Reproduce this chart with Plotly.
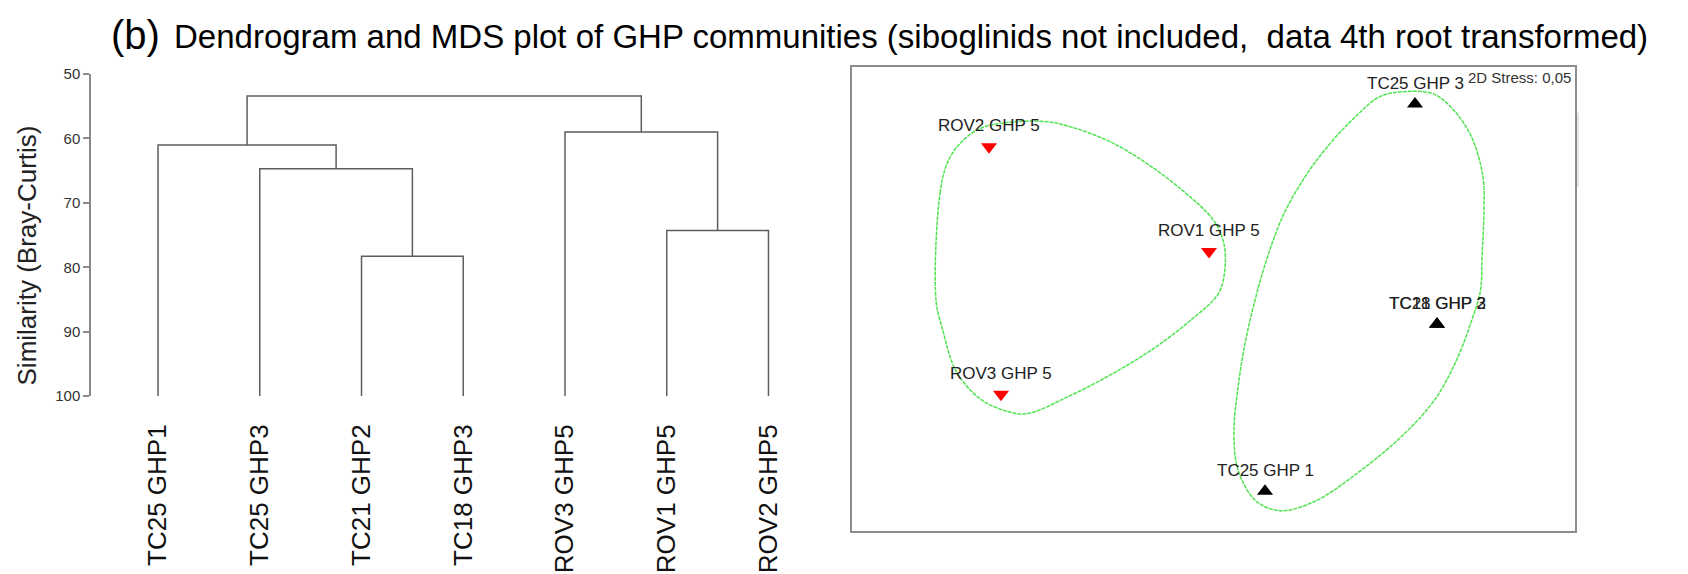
import plotly.graph_objects as go

W, H = 1688, 574

# ---------------- Dendrogram data ----------------
leaf_labels = ["TC25 GHP1", "TC25 GHP3", "TC21 GHP2", "TC18 GHP3",
               "ROV3 GHP5", "ROV1 GHP5", "ROV2 GHP5"]
# linkage: children ids (<7 = leaf, >=7 = earlier merge) and similarity level
merge_left = [2, 5, 1, 4, 0, 11]
merge_right = [3, 6, 7, 8, 9, 10]
merge_similarity = [78.3, 74.3, 64.7, 59.0, 61.0, 53.4]
sim_ticks = [50, 60, 70, 80, 90, 100]

# ---------------- MDS data ----------------
mds_labels = ["ROV2 GHP 5", "ROV1 GHP 5", "ROV3 GHP 5",
              "TC25 GHP 3", "TC21 GHP 2", "TC18 GHP 3", "TC25 GHP 1"]
mds_group = ["ROV", "ROV", "ROV", "TC", "TC", "TC", "TC"]
mds_x = [-2.245, -0.045, -2.125, 2.015, 2.235, 2.235, 0.515]
mds_y = [1.57, 0.49, -0.98, 2.01, -0.26, -0.26, -1.98]

rov_hull_x = [-2.775, -2.735, -2.655, -2.52, -2.33, -2.06, -1.68, -1.41, -1.03, -0.655,
              -0.275, -0.005, 0.10, 0.115, 0.05, -0.22, -0.60, -1.03, -1.465, -1.87,
              -2.115, -2.355, -2.575, -2.71]
rov_hull_y = [-0.01, 1.09, 1.42, 1.62, 1.76, 1.82, 1.83, 1.77, 1.62, 1.39,
              1.09, 0.82, 0.59, 0.32, 0.06, -0.21, -0.51, -0.78, -1.01, -1.18,
              -1.14, -1.01, -0.74, -0.31]
tc_hull_x = [2.685, 2.705, 2.695, 2.585, 2.425, 2.21, 1.94, 1.67, 1.40, 1.13, 0.915,
             0.695, 0.535, 0.415, 0.315, 0.245, 0.205, 0.245, 0.425, 0.67, 1.02, 1.455,
             1.885, 2.21, 2.425, 2.585, 2.67]
tc_hull_y = [0.42, 0.92, 1.26, 1.66, 1.92, 2.11, 2.14, 2.09, 1.86, 1.56, 1.26,
             0.86, 0.42, -0.01, -0.46, -0.91, -1.36, -1.76, -2.08, -2.18, -2.08, -1.78,
             -1.41, -1.04, -0.64, -0.21, 0.09]

stress_text = "2D Stress: 0,05"
title_tag = "(b)"
title_text = ("Dendrogram and MDS plot of GHP communities (siboglinids not included,"
              "\u00a0 data 4th root transformed)")
y_title = "Similarity (Bray-Curtis)"

FONT = "Liberation Sans, Arial, Helvetica, sans-serif"


def px(x):
    return x / W


def py(y):
    return 1 - y / H


# ---------------- build dendrogram segments ----------------
n_leaf = len(leaf_labels)
node_x = list(range(n_leaf))
node_h = [100.0] * n_leaf
seg_x, seg_y = [], []
for l, r, s in zip(merge_left, merge_right, merge_similarity):
    seg_x += [node_x[l], node_x[l], node_x[r], node_x[r], None]
    seg_y += [node_h[l], s, s, node_h[r], None]
    node_x.append((node_x[l] + node_x[r]) / 2)
    node_h.append(s)

fig = go.Figure()
fig.add_trace(go.Scatter(x=seg_x, y=seg_y, mode="lines",
                         line=dict(color="#5e5e5e", width=1.5),
                         xaxis="x", yaxis="y", hoverinfo="skip", showlegend=False))

for hx, hy in [(rov_hull_x, rov_hull_y), (tc_hull_x, tc_hull_y)]:
    fig.add_trace(go.Scatter(x=hx + [hx[0]], y=hy + [hy[0]], mode="lines",
                             line=dict(color="#4fe34f", width=1.5, dash="4px,1px",
                                       shape="spline", smoothing=1.0),
                             xaxis="x2", yaxis="y2", hoverinfo="skip", showlegend=False))

style = {"ROV": dict(symbol="triangle-down", color="#ff0000"),
         "TC": dict(symbol="triangle-up", color="#000000")}
for g in ["ROV", "TC"]:
    idx = [i for i, gg in enumerate(mds_group) if gg == g]
    fig.add_trace(go.Scatter(x=[mds_x[i] for i in idx], y=[mds_y[i] for i in idx],
                             mode="markers",
                             marker=dict(symbol=style[g]["symbol"], color=style[g]["color"], size=14),
                             xaxis="x2", yaxis="y2", showlegend=False))

annotations = []
for lab, x, y in zip(mds_labels, mds_x, mds_y):
    annotations.append(dict(x=x, y=y, xref="x2", yref="y2", text=lab, showarrow=False,
                            yshift=21, font=dict(family=FONT, size=17, color="#222222")))

annotations += [
    dict(x=px(1466), y=py(71), xref="paper", yref="paper", text=stress_text,
         showarrow=False, xanchor="left", yanchor="middle",
         font=dict(family=FONT, size=15, color="#333333")),
    dict(x=px(109), y=py(27), xref="paper", yref="paper", text=title_tag,
         showarrow=False, xanchor="left", yanchor="middle",
         font=dict(family=FONT, size=40, color="#000000")),
    dict(x=px(172), y=py(28), xref="paper", yref="paper", text=title_text,
         showarrow=False, xanchor="left", yanchor="middle",
         font=dict(family=FONT, size=33, color="#000000")),
    dict(x=px(27), y=py(254), xref="paper", yref="paper", text=y_title,
         showarrow=False, xanchor="center", yanchor="middle", textangle=-90,
         font=dict(family=FONT, size=26, color="#222222")),
]

fig.update_layout(
    width=W, height=H, autosize=False,
    margin=dict(l=0, r=0, t=0, b=0),
    paper_bgcolor="white", plot_bgcolor="white",
    showlegend=False,
    xaxis=dict(domain=[px(91), px(799)], range=[-0.659, 6.3], anchor="y",
               tickvals=list(range(n_leaf)), ticktext=leaf_labels, tickangle=-90,
               tickfont=dict(family=FONT, size=26, color="#111111"),
               ticks="", ticklabelstandoff=22,
               showline=False, showgrid=False, zeroline=False),
    yaxis=dict(domain=[py(399), py(67)], range=[100, 50], anchor="x",
               tickvals=sim_ticks, ticks="outside", ticklen=6, tickwidth=1.5,
               tickcolor="#8a8a8a", showline=True, linecolor="#8a8a8a", linewidth=1.5,
               tickfont=dict(family=FONT, size=15, color="#333333"),
               showgrid=False, zeroline=False),
    xaxis2=dict(domain=[px(852), px(1575)], range=[-3.615, 3.615], anchor="y2",
                showline=True, mirror=True, linecolor="#8c8c8c", linewidth=2,
                showticklabels=False, ticks="", showgrid=False, zeroline=False),
    yaxis2=dict(domain=[py(538), py(60)], range=[-2.39, 2.39], anchor="x2",
                showline=True, mirror=True, linecolor="#8c8c8c", linewidth=2,
                showticklabels=False, ticks="", showgrid=False, zeroline=False),
    annotations=annotations,
    shapes=[dict(type="line", xref="paper", yref="paper",
                 x0=px(1578), x1=px(1578), y0=py(107), y1=py(183),
                 line=dict(color="#dddddd", width=1.5))],
)

fig.write_html("out.html", config={"displayModeBar": False},
               post_script="document.body.style.margin='0';document.body.style.overflow='hidden';")
